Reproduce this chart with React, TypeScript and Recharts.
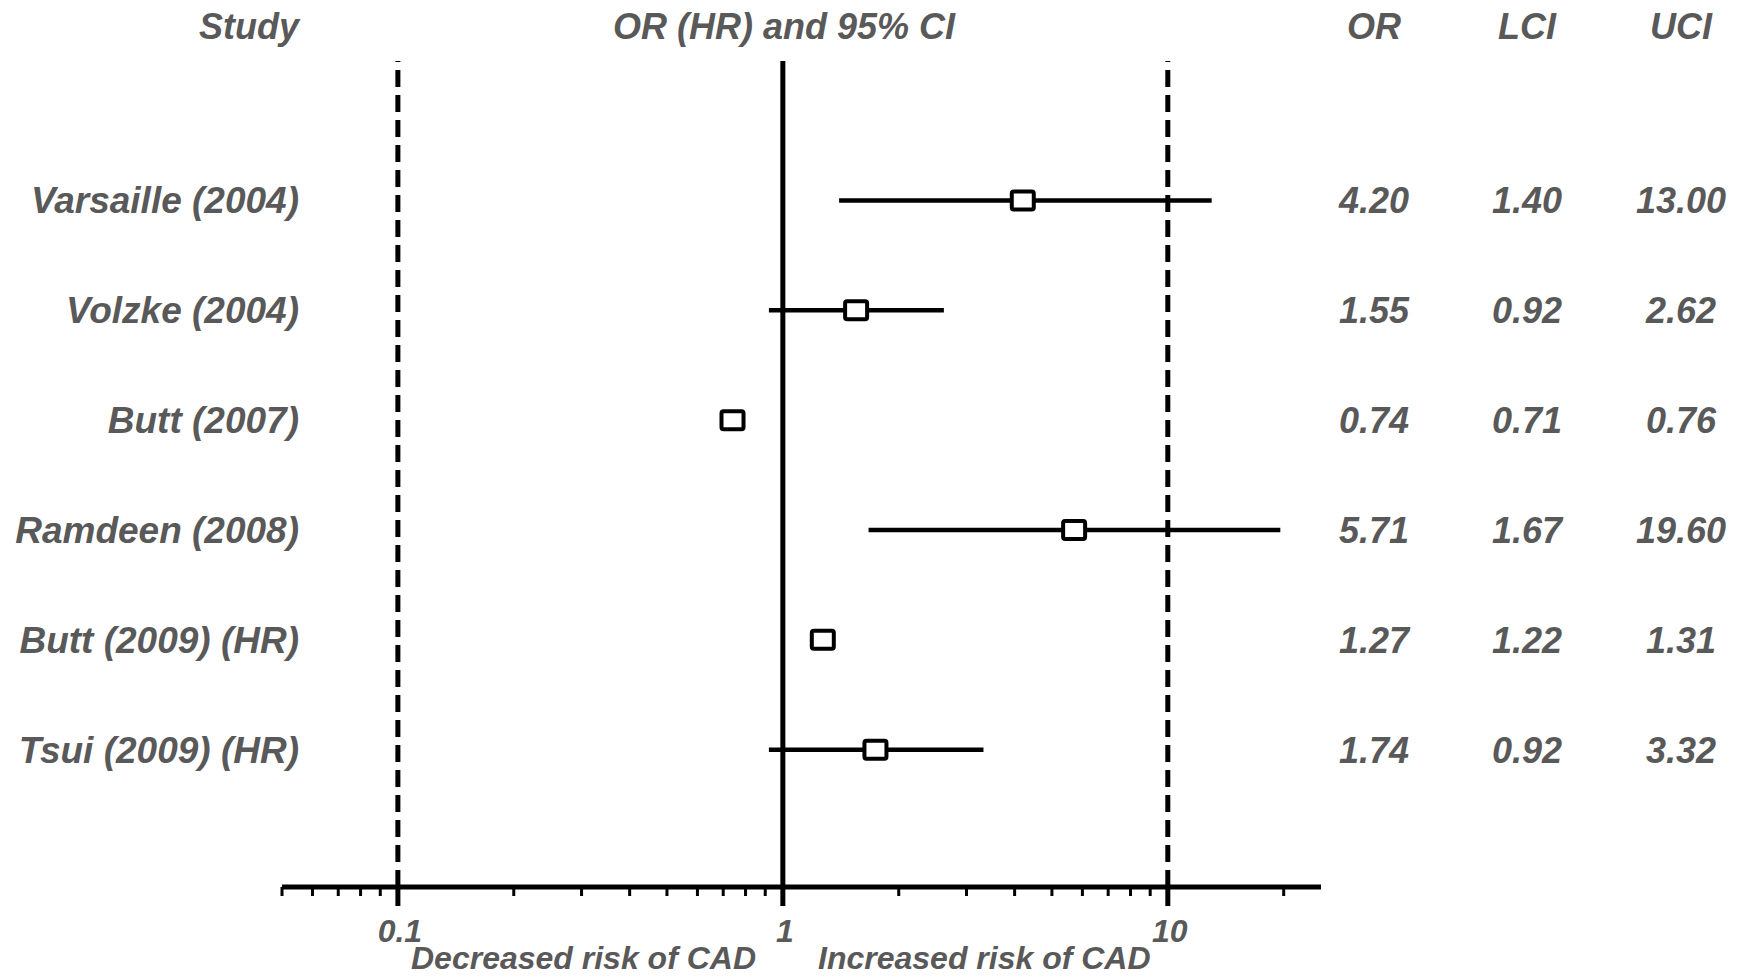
import React from "react";
import { ScatterChart, Scatter, XAxis, YAxis, ReferenceLine } from "recharts";

const studies = [
  "Varsaille (2004)",
  "Volzke (2004)",
  "Butt (2007)",
  "Ramdeen (2008)",
  "Butt (2009) (HR)",
  "Tsui (2009) (HR)",
];
const orValues = [4.2, 1.55, 0.74, 5.71, 1.27, 1.74];
const lciValues = [1.4, 0.92, 0.71, 1.67, 1.22, 0.92];
const uciValues = [13.0, 2.62, 0.76, 19.6, 1.31, 3.32];

const xTicks = [
  0.05, 0.06, 0.07, 0.08, 0.09, 0.1, 0.2, 0.3, 0.4, 0.5, 0.6, 0.7, 0.8, 0.9,
  1, 2, 3, 4, 5, 6, 7, 8, 9, 10, 20,
];
const labelledTicks = [0.1, 1, 10];
const rowTicks = [1, 2, 3, 4, 5, 6];

const FONT = "'Liberation Sans', Arial, sans-serif";
const GREY = "#595959";

const rows = studies.map((name, i) => ({
  row: i + 1,
  name,
  or: orValues[i],
  lci: lciValues[i],
  uci: uciValues[i],
}));

const textStyle = {
  fontFamily: FONT,
  fontWeight: 700,
  fontStyle: "italic" as const,
  fill: GREY,
};

function XTick(props: any) {
  const { x, y, payload } = props;
  const major = labelledTicks.includes(payload.value);
  return (
    <g>
      <line
        x1={x}
        x2={x}
        y1={y}
        y2={y + (major ? 19 : 9)}
        stroke="#000"
        strokeWidth={major ? 5 : 3}
      />
      {major && (
        <text x={x + 2} y={y + 55} textAnchor="middle" fontSize={32} style={textStyle}>
          {String(payload.value)}
        </text>
      )}
    </g>
  );
}

function RowTick(props: any) {
  const { y, payload } = props;
  const r = rows[Math.round(payload.value) - 1];
  if (!r) return null;
  const by = y + 13;
  return (
    <g>
      <text x={299} y={by} textAnchor="end" fontSize={37} style={textStyle}>
        {r.name}
      </text>
      <text x={1374} y={by} textAnchor="middle" fontSize={36} style={textStyle}>
        {r.or.toFixed(2)}
      </text>
      <text x={1527} y={by} textAnchor="middle" fontSize={36} style={textStyle}>
        {r.lci.toFixed(2)}
      </text>
      <text x={1681} y={by} textAnchor="middle" fontSize={36} style={textStyle}>
        {r.uci.toFixed(2)}
      </text>
    </g>
  );
}

function Square(props: any) {
  const { cx, cy } = props;
  return (
    <rect
      x={cx - 11}
      y={cy - 9}
      width={22}
      height={18}
      rx={2}
      fill="#fff"
      stroke="#000"
      strokeWidth={4}
    />
  );
}

export default function App() {
  return (
    <div style={{ position: "absolute", left: 0, top: 0, width: 1745, height: 978, background: "#fff" }}>
      <ScatterChart
        width={1745}
        height={978}
        margin={{ top: 61, right: 424, bottom: 0, left: 272 }}
      >
        <XAxis
          type="number"
          dataKey="or"
          scale="log"
          domain={[0.05, 25]}
          allowDataOverflow
          ticks={xTicks}
          interval={0}
          height={91}
          tickSize={0}
          tickMargin={0}
          tickLine={false}
          axisLine={{ stroke: "#000", strokeWidth: 5 }}
          tick={<XTick />}
        />
        <YAxis
          type="number"
          dataKey="row"
          domain={[-0.27, 7.25]}
          allowDataOverflow
          reversed
          ticks={rowTicks}
          interval={0}
          width={10}
          tickSize={0}
          tickMargin={0}
          tickLine={false}
          axisLine={false}
          tick={<RowTick />}
        />
        <ReferenceLine x={0.1} stroke="#000" strokeWidth={5} strokeDasharray="17 8" />
        <ReferenceLine x={10} stroke="#000" strokeWidth={5} strokeDasharray="17 8" />
        <ReferenceLine x={1} stroke="#000" strokeWidth={5} />
        {rows.map((r) => (
          <ReferenceLine
            key={r.name}
            segment={[
              { x: r.lci, y: r.row },
              { x: r.uci, y: r.row },
            ]}
            stroke="#000"
            strokeWidth={4.5}
          />
        ))}
        <Scatter data={rows} shape={<Square />} isAnimationActive={false} />
      </ScatterChart>
      <svg
        width={1745}
        height={978}
        style={{ position: "absolute", left: 0, top: 0, pointerEvents: "none" }}
      >
        <text x={299} y={39} textAnchor="end" fontSize={36} style={textStyle}>Study</text>
        <text x={784} y={39} textAnchor="middle" fontSize={36} style={textStyle}>OR (HR) and 95% CI</text>
        <text x={1374} y={39} textAnchor="middle" fontSize={36} style={textStyle}>OR</text>
        <text x={1527} y={39} textAnchor="middle" fontSize={36} style={textStyle}>LCI</text>
        <text x={1681} y={39} textAnchor="middle" fontSize={36} style={textStyle}>UCI</text>
        <text x={756} y={969} textAnchor="end" fontSize={32} style={textStyle}>Decreased risk of CAD</text>
        <text x={818} y={969} textAnchor="start" fontSize={32} style={textStyle}>Increased risk of CAD</text>
      </svg>
    </div>
  );
}
